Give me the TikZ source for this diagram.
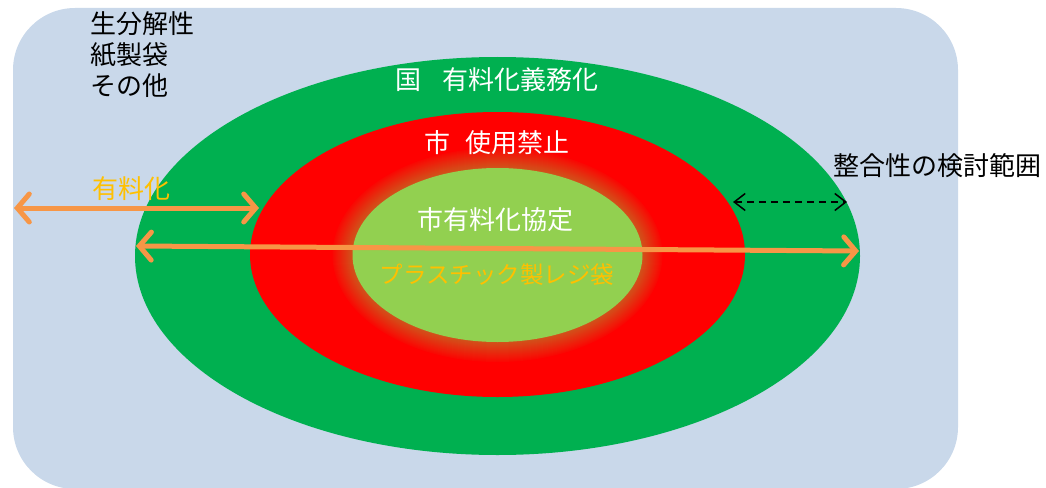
\documentclass[tikz,border=0pt]{standalone}
\usepackage{fontspec}
\setmainfont{Noto Sans CJK JP}
\usetikzlibrary{arrows.meta,shapes.geometric}
\definecolor{bgblue}{HTML}{C9D8EA}
\definecolor{ggreen}{HTML}{00B050}
\definecolor{lgreen}{HTML}{92D050}
\definecolor{arrorange}{HTML}{F79646}
\definecolor{txtorange}{HTML}{FFC000}
\definecolor{glowcol}{HTML}{D0551C}
\tikzset{
  ring/.style={ellipse, inner sep=0pt, draw=none},
  lbl/.style={inner sep=0pt, font=\fontsize{26}{31}\selectfont},
  bigarrow/.style={draw=arrorange, line width=5pt, line cap=round,
    {Straight Barb[length=12pt,width=28pt,line width=5pt,line cap=round]}-{Straight Barb[length=12pt,width=28pt,line width=5pt,line cap=round]}},
  dasharrow/.style={draw=black, line width=1.5pt, dash pattern=on 7pt off 5pt,
    {Straight Barb[length=11pt,width=17pt,line width=1.5pt]}-{Straight Barb[length=11pt,width=17pt,line width=1.5pt]}}
}
\begin{document}
\begin{tikzpicture}[x=1pt,y=-1pt]
\useasboundingbox (0,0) rectangle (1046,487);
% background
\fill[bgblue, rounded corners=62pt] (13,8) rectangle (958,489);
% ellipses
\node[ring, fill=ggreen, minimum width=725pt, minimum height=398pt] (nation) at (497.5,256) {};
\node[ring, fill=red, minimum width=495pt, minimum height=285pt] (city) at (497.5,254.5) {};
% glow
\foreach \i in {20,19,...,1}{
  \pgfmathsetmacro{\mix}{100-4.5*\i}
  \fill[glowcol!\mix!red] (497.5,255) ellipse ({145+\i} and {87+\i});
}
\node[ring, fill=lgreen, minimum width=290pt, minimum height=174pt] (agree) at (497.5,255) {};
% labels
\node[lbl, anchor=north west, align=left] (others) at (90,11) {生分解性\\紙製袋\\その他};
\node[lbl, text=white] (lnation) at (497,80) {国\hspace{0.8em}有料化義務化};
\node[lbl, text=white] (lcity) at (497,143) {市\hspace{0.6em}使用禁止};
\node[lbl, text=white] (lagree) at (495,220) {市有料化協定};
\node[lbl, text=txtorange, font=\fontsize{23.5}{28}\selectfont] (lbag) at (497,275) {プラスチック製レジ袋};
\node[lbl, text=txtorange] (lfee) at (131,189) {有料化};
\node[lbl, anchor=west] (lcheck) at (833,166) {整合性の検討範囲};
% arrow end points
\coordinate (a1l) at (14,208);
\coordinate (a1r) at (259,208);
\coordinate (a2l) at (136,246);
\coordinate (a2r) at (859,251);
\coordinate (a3l) at (733,202);
\coordinate (a3r) at (847,202);
\draw[bigarrow] (a1l) -- (a1r);
\draw[bigarrow] (a2l) -- (a2r);
\draw[dasharrow] (a3l) -- (a3r);
\end{tikzpicture}
\end{document}
